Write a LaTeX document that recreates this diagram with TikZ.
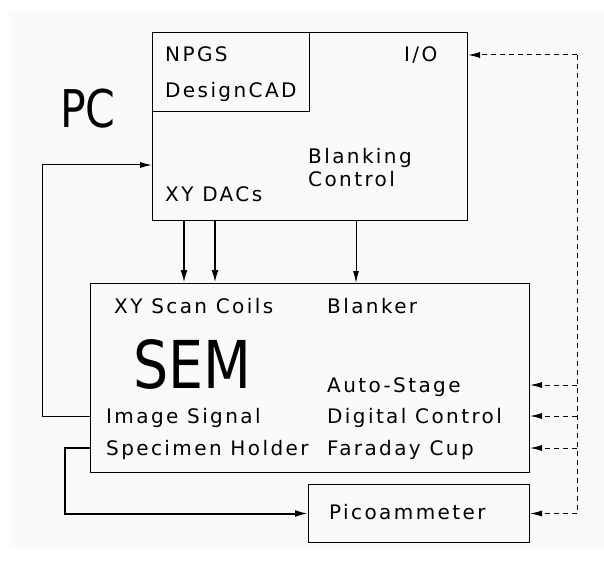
\documentclass[tikz,border=0pt]{standalone}
\usepackage{fontspec}
\setmainfont{DejaVu Sans}[LetterSpace=12]
\newfontfamily\bigfont{DejaVu Sans}
\usetikzlibrary{arrows.meta,positioning}

\tikzset{
  box/.style={draw, line width=1pt, inner sep=0pt, anchor=north west},
  lbl/.style={anchor=base west, inner sep=0pt, font=\fontsize{20}{23}\selectfont},
  title/.style={anchor=base west, inner sep=0pt},
  feed/.style={line width=1pt, -{Latex[length=12pt,width=6pt]}},
  scan/.style={line width=2pt, -{Latex[length=13pt,width=7pt]}},
  ctrl/.style={line width=1pt, dash pattern=on 5pt off 4pt},
  ctrlarr/.style={ctrl, -{Latex[length=12pt,width=6pt]}}
}

\begin{document}
\begin{tikzpicture}[x=1pt, y=-1pt]

\useasboundingbox (0,0) rectangle (604,561);
\fill[gray!4] (9,11) rectangle (604,548);

% boxes
\node[box, minimum width=315pt, minimum height=188pt] (pc) at (152,32) {};
\node[box, minimum width=157pt, minimum height=79pt] (npgs) at (152,32) {};
\node[box, minimum width=439pt, minimum height=189pt] (sem) at (90,283) {};
\node[box, minimum width=221pt, minimum height=58pt] (pico) at (308,484) {};

% PC labels
\node[title, font=\bigfont\fontsize{52}{52}\selectfont, xscale=0.82] (pclbl) at (60,128) {PC};
\node[lbl] (npgslbl) at (165,62) {NPGS};
\node[lbl] (cad) at (165,98) {DesignCAD};
\node[lbl] (io) at (404,62) {I/O};
\node[lbl] (dacs) at (165,202) {XY DACs};
\node[lbl, align=left] (blank) at (308,187) {Blanking\\Control};

% SEM labels
\node[title, font=\bigfont\fontsize{66}{66}\selectfont, xscale=0.84] (semlbl) at (133,388) {SEM};
\node[lbl] (coils) at (114,313) {XY Scan Coils};
\node[lbl] (blanker) at (327,313) {Blanker};
\node[lbl] (stage) at (327,392) {Auto-Stage};
\node[lbl] (img) at (106,423) {Image Signal};
\node[lbl] (digital) at (327,423) {Digital Control};
\node[lbl] (spec) at (106,455) {Specimen Holder};
\node[lbl] (faraday) at (327,455) {Faraday Cup};
\node[lbl] (picolbl) at (329,519) {Picoammeter};

% routing points
\coordinate (fb) at (42,0);
\coordinate (ret) at (65,0);
\coordinate (bus) at (577,0);
\coordinate (pcin) at (152,165);

% PC to SEM
\draw[scan] ([xshift=32pt]pc.south west) -- ([xshift=94pt]sem.north west);
\draw[scan] ([xshift=63pt]pc.south west) -- ([xshift=125pt]sem.north west);
\draw[feed] ([xshift=204pt]pc.south west) -- ([xshift=266pt]sem.north west);

% image signal back to PC
\draw[feed] (sem.west |- 0,416) -- (fb |- 0,416) -- (fb |- pcin) -- (pcin);

% specimen current to picoammeter
\draw[scan] (sem.west |- 0,448) -- (ret |- 0,448) -- (ret |- pico.west) -- (pico.west);

% I/O control lines
\draw[ctrl] (bus |- 0,55) -- (bus |- pico.east);
\draw[ctrlarr] (bus |- 0,55) -- (pc.east |- 0,55);
\draw[ctrlarr] (bus |- 0,385) -- (sem.east |- 0,385);
\draw[ctrlarr] (bus |- 0,416) -- (sem.east |- 0,416);
\draw[ctrlarr] (bus |- 0,448) -- (sem.east |- 0,448);
\draw[ctrlarr] (bus |- pico.east) -- (pico.east);

\end{tikzpicture}
\end{document}
